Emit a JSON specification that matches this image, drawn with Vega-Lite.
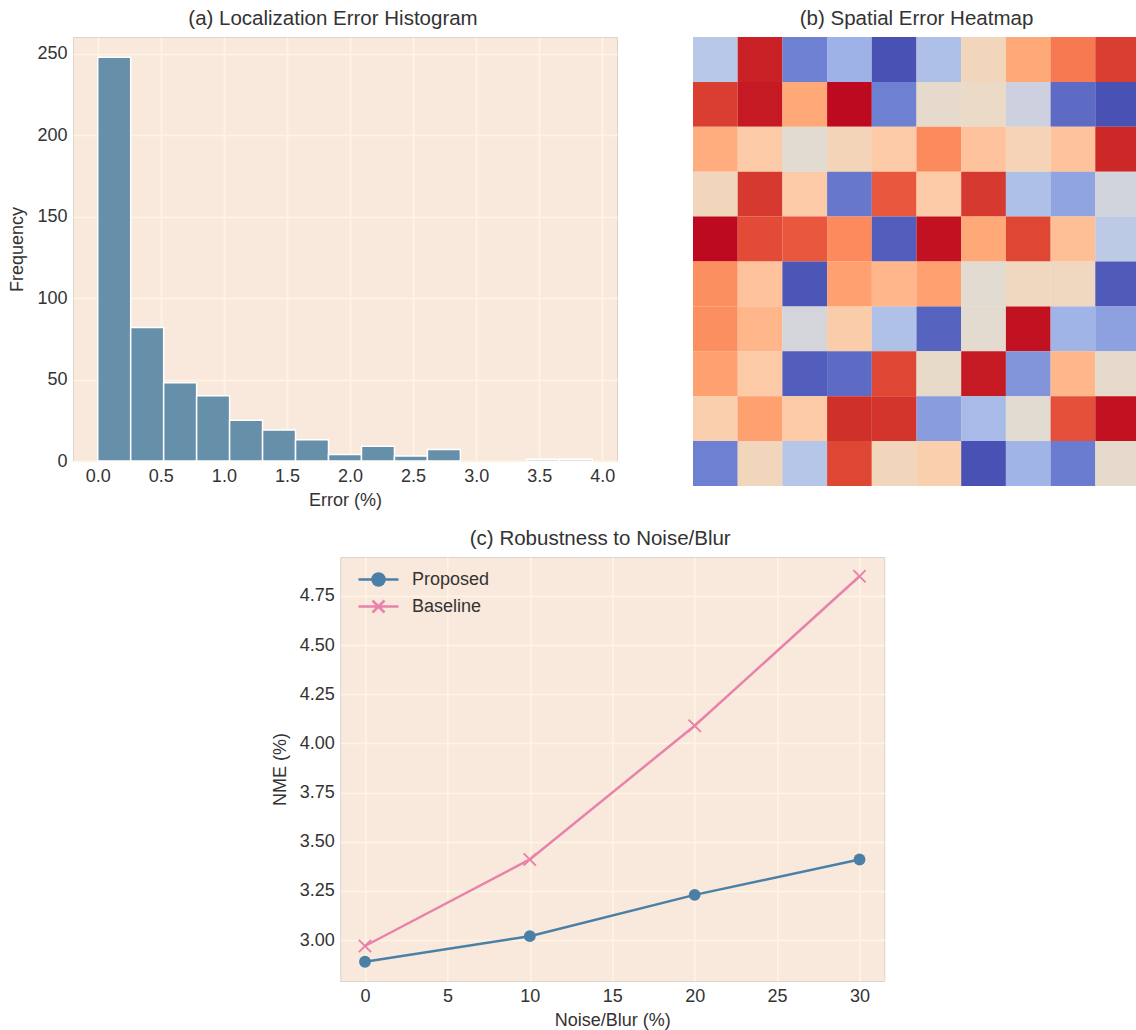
{
  "$schema": "https://vega.github.io/schema/vega-lite/v6.json",
  "background": "white",
  "padding": {"left": 8, "top": 8, "right": 0, "bottom": 0},
  "config": {
    "font": "Liberation Sans",
    "view": {"fill": "#f9e9dc", "stroke": "#dcd3ca", "strokeWidth": 1},
    "axis": {"grid": true, "gridColor": "#fdf5e1", "gridWidth": 1.5, "domain": false, "ticks": false, "labelFontSize": 18, "titleFontSize": 18, "labelColor": "#333333", "titleColor": "#333333", "titleFontWeight": "normal", "labelPadding": 6, "titlePadding": 8, "labelFlush": false, "labelOverlap": false},
    "title": {"fontSize": 20.5, "fontWeight": "normal", "color": "#333333", "offset": 8, "frame": "group"}
  },
  "resolve": {"scale": {"color": "independent"}},
  "spacing": 18,
  "center": true,
  "vconcat": [
    {
      "spacing": 75,
      "hconcat": [
        {
          "title": {"text": "(a) Localization Error Histogram", "dx": -12},
          "width": 544,
          "height": 424,
          "data": {"values": [
            {"bin_start": 0.0, "bin_end": 0.2613, "count": 248},
            {"bin_start": 0.2613, "bin_end": 0.5227, "count": 82},
            {"bin_start": 0.5227, "bin_end": 0.784, "count": 48},
            {"bin_start": 0.784, "bin_end": 1.0453, "count": 40},
            {"bin_start": 1.0453, "bin_end": 1.3067, "count": 25},
            {"bin_start": 1.3067, "bin_end": 1.568, "count": 19},
            {"bin_start": 1.568, "bin_end": 1.8293, "count": 13},
            {"bin_start": 1.8293, "bin_end": 2.0907, "count": 4},
            {"bin_start": 2.0907, "bin_end": 2.352, "count": 9},
            {"bin_start": 2.352, "bin_end": 2.6133, "count": 3},
            {"bin_start": 2.6133, "bin_end": 2.8747, "count": 7},
            {"bin_start": 3.3973, "bin_end": 3.6587, "count": 1},
            {"bin_start": 3.6587, "bin_end": 3.92, "count": 1}
          ]},
          "mark": {"type": "rect", "color": "#668fa9", "stroke": "white", "strokeWidth": 1.5},
          "encoding": {
            "x": {"field": "bin_start", "type": "quantitative", "scale": {"domain": [-0.196, 4.116], "nice": false, "zero": false}, "axis": {"title": "Error (%)", "values": [0, 0.5, 1, 1.5, 2, 2.5, 3, 3.5, 4], "format": ".1f", "titlePadding": 6}},
            "x2": {"field": "bin_end"},
            "y": {"field": "count", "type": "quantitative", "scale": {"domain": [0, 260.4], "nice": false}, "axis": {"title": "Frequency", "values": [0, 50, 100, 150, 200, 250], "titlePadding": 10}},
            "y2": {"datum": 0}
          }
        },
        {
          "title": "(b) Spatial Error Heatmap",
          "width": 447,
          "height": 449,
          "view": {"stroke": null},
          "data": {"values": [
            {"r":0,"c":0,"v":0.37},{"r":0,"c":1,"v":0.97},{"r":0,"c":2,"v":0.13},{"r":0,"c":3,"v":0.27},{"r":0,"c":4,"v":0.02},{"r":0,"c":5,"v":0.33},{"r":0,"c":6,"v":0.58},{"r":0,"c":7,"v":0.72},{"r":0,"c":8,"v":0.82},{"r":0,"c":9,"v":0.92},
            {"r":1,"c":0,"v":0.92},{"r":1,"c":1,"v":0.98},{"r":1,"c":2,"v":0.72},{"r":1,"c":3,"v":1.0},{"r":1,"c":4,"v":0.13},{"r":1,"c":5,"v":0.53},{"r":1,"c":6,"v":0.55},{"r":1,"c":7,"v":0.45},{"r":1,"c":8,"v":0.08},{"r":1,"c":9,"v":0.02},
            {"r":2,"c":0,"v":0.71},{"r":2,"c":1,"v":0.64},{"r":2,"c":2,"v":0.51},{"r":2,"c":3,"v":0.59},{"r":2,"c":4,"v":0.64},{"r":2,"c":5,"v":0.79},{"r":2,"c":6,"v":0.66},{"r":2,"c":7,"v":0.6},{"r":2,"c":8,"v":0.66},{"r":2,"c":9,"v":0.96},
            {"r":3,"c":0,"v":0.58},{"r":3,"c":1,"v":0.93},{"r":3,"c":2,"v":0.64},{"r":3,"c":3,"v":0.11},{"r":3,"c":4,"v":0.87},{"r":3,"c":5,"v":0.64},{"r":3,"c":6,"v":0.93},{"r":3,"c":7,"v":0.33},{"r":3,"c":8,"v":0.23},{"r":3,"c":9,"v":0.46},
            {"r":4,"c":0,"v":1.0},{"r":4,"c":1,"v":0.89},{"r":4,"c":2,"v":0.87},{"r":4,"c":3,"v":0.79},{"r":4,"c":4,"v":0.05},{"r":4,"c":5,"v":0.99},{"r":4,"c":6,"v":0.72},{"r":4,"c":7,"v":0.9},{"r":4,"c":8,"v":0.67},{"r":4,"c":9,"v":0.39},
            {"r":5,"c":0,"v":0.78},{"r":5,"c":1,"v":0.66},{"r":5,"c":2,"v":0.03},{"r":5,"c":3,"v":0.74},{"r":5,"c":4,"v":0.69},{"r":5,"c":5,"v":0.74},{"r":5,"c":6,"v":0.51},{"r":5,"c":7,"v":0.57},{"r":5,"c":8,"v":0.57},{"r":5,"c":9,"v":0.04},
            {"r":6,"c":0,"v":0.78},{"r":6,"c":1,"v":0.69},{"r":6,"c":2,"v":0.47},{"r":6,"c":3,"v":0.63},{"r":6,"c":4,"v":0.34},{"r":6,"c":5,"v":0.06},{"r":6,"c":6,"v":0.52},{"r":6,"c":7,"v":0.99},{"r":6,"c":8,"v":0.28},{"r":6,"c":9,"v":0.22},
            {"r":7,"c":0,"v":0.74},{"r":7,"c":1,"v":0.64},{"r":7,"c":2,"v":0.05},{"r":7,"c":3,"v":0.08},{"r":7,"c":4,"v":0.9},{"r":7,"c":5,"v":0.54},{"r":7,"c":6,"v":0.98},{"r":7,"c":7,"v":0.19},{"r":7,"c":8,"v":0.69},{"r":7,"c":9,"v":0.53},
            {"r":8,"c":0,"v":0.62},{"r":8,"c":1,"v":0.74},{"r":8,"c":2,"v":0.64},{"r":8,"c":3,"v":0.95},{"r":8,"c":4,"v":0.94},{"r":8,"c":5,"v":0.21},{"r":8,"c":6,"v":0.31},{"r":8,"c":7,"v":0.51},{"r":8,"c":8,"v":0.88},{"r":8,"c":9,"v":0.99},
            {"r":9,"c":0,"v":0.13},{"r":9,"c":1,"v":0.58},{"r":9,"c":2,"v":0.36},{"r":9,"c":3,"v":0.9},{"r":9,"c":4,"v":0.58},{"r":9,"c":5,"v":0.62},{"r":9,"c":6,"v":0.02},{"r":9,"c":7,"v":0.28},{"r":9,"c":8,"v":0.12},{"r":9,"c":9,"v":0.53}
          ]},
          "mark": {"type": "rect"},
          "encoding": {
            "x": {"field": "c", "type": "ordinal", "axis": null, "scale": {"padding": 0}},
            "y": {"field": "r", "type": "ordinal", "scale": {"padding": 0}, "axis": {"orient": "right", "labels": false, "ticks": false, "domain": false, "grid": false, "title": null, "minExtent": 12, "maxExtent": 12}},
            "color": {"field": "v", "type": "quantitative", "legend": null, "scale": {
              "domain": [0, 0.12, 0.27, 0.37, 0.45, 0.5, 0.55, 0.6, 0.65, 0.72, 0.8, 0.88, 0.95, 1],
              "range": ["#4249ae", "#6a7ccf", "#9eb2e8", "#b8c8e8", "#cdd1df", "#dfdbd5", "#eadac6", "#f6d3b6", "#fec8a2", "#ffa878", "#fb8658", "#e5503a", "#d0302a", "#be0a20"],
              "interpolate": "rgb"}}
          }
        }
      ]
    },
    {
      "title": {"text": "(c) Robustness to Noise/Blur", "dx": -12},
      "width": 544,
      "height": 424,
      "data": {"values": [
        {"series": "Proposed", "noise": 0, "nme": 2.89},
        {"series": "Proposed", "noise": 10, "nme": 3.02},
        {"series": "Proposed", "noise": 20, "nme": 3.23},
        {"series": "Proposed", "noise": 30, "nme": 3.41},
        {"series": "Baseline", "noise": 0, "nme": 2.97},
        {"series": "Baseline", "noise": 10, "nme": 3.41},
        {"series": "Baseline", "noise": 20, "nme": 4.09},
        {"series": "Baseline", "noise": 30, "nme": 4.85}
      ]},
      "encoding": {
        "x": {"field": "noise", "type": "quantitative", "scale": {"domain": [-1.5, 31.5], "nice": false, "zero": false}, "axis": {"title": "Noise/Blur (%)", "values": [0, 5, 10, 15, 20, 25, 30], "titlePadding": 6}},
        "y": {"field": "nme", "type": "quantitative", "scale": {"domain": [2.792, 4.948], "nice": false, "zero": false}, "axis": {"title": "NME (%)", "values": [3, 3.25, 3.5, 3.75, 4, 4.25, 4.5, 4.75], "format": ".2f", "titlePadding": 10}}
      },
      "layer": [
        {
          "mark": {"type": "line", "strokeWidth": 2.5},
          "encoding": {
            "color": {"field": "series", "type": "nominal", "legend": null, "scale": {"domain": ["Proposed", "Baseline"], "range": ["#4a7fa6", "#e882ab"]}}
          }
        },
        {
          "transform": [{"filter": "datum.series === 'Proposed'"}],
          "mark": {"type": "point", "shape": "circle", "filled": true, "size": 140, "color": "#4a7fa6", "opacity": 1},
          "encoding": {}
        },
        {
          "transform": [{"filter": "datum.series === 'Baseline'"}],
          "mark": {"type": "point", "shape": "M-1,-1L1,1M1,-1L-1,1", "filled": false, "size": 150, "stroke": "#e882ab", "strokeWidth": 2, "opacity": 1},
          "encoding": {}
        },
        {
          "mark": {"type": "point", "strokeWidth": 2.5, "opacity": 0},
          "encoding": {
            "shape": {"field": "series", "type": "nominal", "scale": {"domain": ["Proposed", "Baseline"], "range": ["M-2,0H2M0.6,0A0.6,0.6,0,1,1,-0.6,0A0.6,0.6,0,1,1,0.6,0Z", "M-2,0H2M-0.6,-0.6L0.6,0.6M0.6,-0.6L-0.6,0.6"]},
              "legend": {"title": null, "orient": "none", "legendX": 294, "legendY": 531, "padding": 0, "symbolSize": 400, "symbolStrokeWidth": 2.5, "symbolOpacity": 1, "labelFontSize": 18, "labelColor": "#333333", "labelOffset": 22, "rowPadding": 4}},
            "fill": {"field": "series", "type": "nominal", "scale": {"domain": ["Proposed", "Baseline"], "range": ["#4a7fa6", "transparent"]}},
            "stroke": {"field": "series", "type": "nominal", "scale": {"domain": ["Proposed", "Baseline"], "range": ["#4a7fa6", "#e882ab"]}}
          }
        }
      ]
    }
  ]
}
